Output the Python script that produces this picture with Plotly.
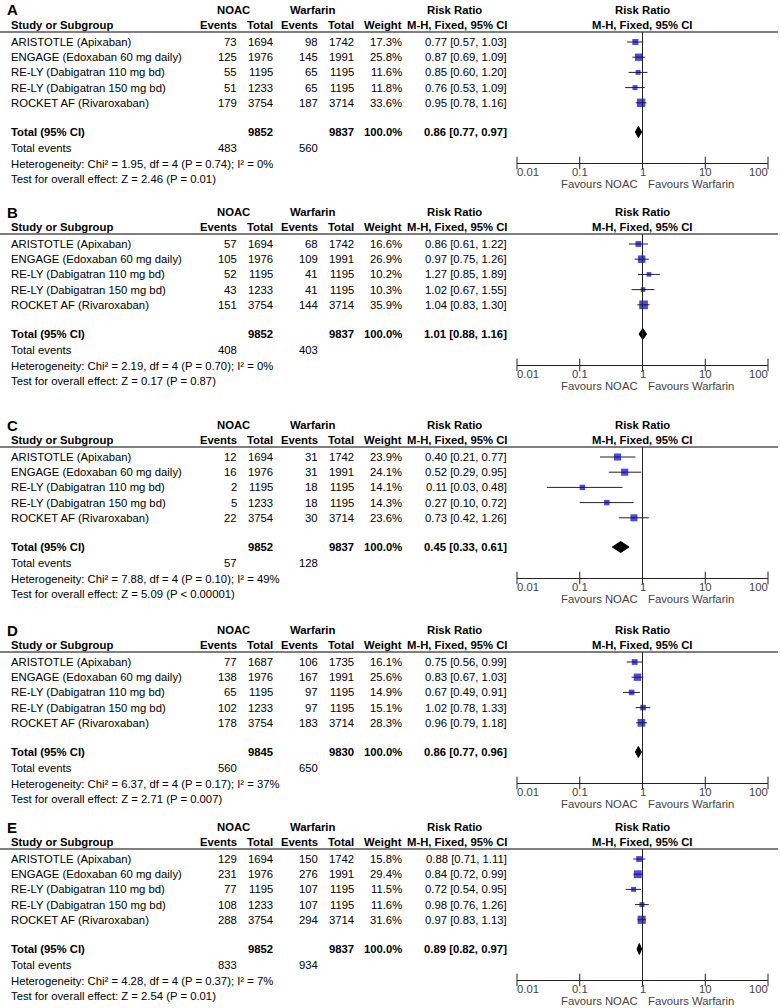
import math
import plotly.graph_objects as go

# ---------------- data ----------------
panels = ["A", "B", "C", "D", "E"]
studies = ["ARISTOTLE (Apixaban)", "ENGAGE (Edoxaban 60 mg daily)",
           "RE-LY (Dabigatran 110 mg bd)", "RE-LY (Dabigatran 150 mg bd)",
           "ROCKET AF (Rivaroxaban)"]
noac_events = [[73, 125, 55, 51, 179], [57, 105, 52, 43, 151], [12, 16, 2, 5, 22],
               [77, 138, 65, 102, 178], [129, 231, 77, 108, 288]]
noac_total = [[1694, 1976, 1195, 1233, 3754], [1694, 1976, 1195, 1233, 3754],
              [1694, 1976, 1195, 1233, 3754], [1687, 1976, 1195, 1233, 3754],
              [1694, 1976, 1195, 1233, 3754]]
warf_events = [[98, 145, 65, 65, 187], [68, 109, 41, 41, 144], [31, 31, 18, 18, 30],
               [106, 167, 97, 97, 183], [150, 276, 107, 107, 294]]
warf_total = [[1742, 1991, 1195, 1195, 3714], [1742, 1991, 1195, 1195, 3714],
              [1742, 1991, 1195, 1195, 3714], [1735, 1991, 1195, 1195, 3714],
              [1742, 1991, 1195, 1195, 3714]]
weights = [[17.3, 25.8, 11.6, 11.8, 33.6], [16.6, 26.9, 10.2, 10.3, 35.9],
           [23.9, 24.1, 14.1, 14.3, 23.6], [16.1, 25.6, 14.9, 15.1, 28.3],
           [15.8, 29.4, 11.5, 11.6, 31.6]]
rr = [[0.77, 0.87, 0.85, 0.76, 0.95], [0.86, 0.97, 1.27, 1.02, 1.04],
      [0.40, 0.52, 0.11, 0.27, 0.73], [0.75, 0.83, 0.67, 1.02, 0.96],
      [0.88, 0.84, 0.72, 0.98, 0.97]]
rr_lo = [[0.57, 0.69, 0.60, 0.53, 0.78], [0.61, 0.75, 0.85, 0.67, 0.83],
         [0.21, 0.29, 0.03, 0.10, 0.42], [0.56, 0.67, 0.49, 0.78, 0.79],
         [0.71, 0.72, 0.54, 0.76, 0.83]]
rr_hi = [[1.03, 1.09, 1.20, 1.09, 1.16], [1.22, 1.26, 1.89, 1.55, 1.30],
         [0.77, 0.95, 0.48, 0.72, 1.26], [0.99, 1.03, 0.91, 1.33, 1.18],
         [1.11, 0.99, 0.95, 1.26, 1.13]]
sum_noac_total = [9852, 9852, 9852, 9845, 9852]
sum_warf_total = [9837, 9837, 9837, 9830, 9837]
sum_weight = [100.0, 100.0, 100.0, 100.0, 100.0]
sum_rr = [0.86, 1.01, 0.45, 0.86, 0.89]
sum_lo = [0.77, 0.88, 0.33, 0.77, 0.82]
sum_hi = [0.97, 1.16, 0.61, 0.96, 0.97]
sum_noac_events = [483, 408, 57, 560, 833]
sum_warf_events = [560, 403, 128, 650, 934]
chi2 = [1.95, 2.19, 7.88, 6.37, 4.28]
df = [4, 4, 4, 4, 4]
het_p = ["0.74", "0.70", "0.10", "0.17", "0.37"]
i2 = [0, 0, 49, 37, 7]
z_val = [2.46, 0.17, 5.09, 2.71, 2.54]
z_p = ["P = 0.01", "P = 0.87", "P < 0.00001", "P = 0.007", "P = 0.01"]
tick_vals = [0.01, 0.1, 1, 10, 100]
tick_text = ["0.01", "0.1", "1", "10", "100"]

# ---------------- layout constants ----------------
W, H = 780, 1008
FONT = "Liberation Sans, Arial, sans-serif"
FS = 11.3
header_line_y = [32, 234, 447, 652, 849]
ROW0, ROWSTEP = 10, 15.2
TOTAL_OFF, EVT_OFF, HET_OFF, TEST_OFF = 100, 116, 132, 147
AXIS_OFF, TICKLBL_OFF, FAV_OFF = 131, 140, 152
AX_L, AX_R = 517, 768
C_EV1, C_N1, C_EV2, C_N2, C_W, C_CI = 237, 273, 318, 354, 402, 507
BLUE = "#0000CD"
GREY = "#444444"

annotations, shapes = [], []


def text(s, x, y, anchor="left", bold=False, size=FS, color="#000000"):
    if bold:
        s = "<b>" + s + "</b>"
    annotations.append(dict(text=s, x=x / W, y=1 - y / H, xref="paper", yref="paper",
                            xanchor=anchor, yanchor="middle", showarrow=False,
                            borderpad=0, borderwidth=0,
                            font=dict(family=FONT, size=size, color=color)))


def ci_text(m, lo, hi):
    return f"{m:.2f} [{lo:.2f}, {hi:.2f}]"


fig = go.Figure()
layout_axes = {}

for p in range(5):
    hl = header_line_y[p]
    # headers
    text(panels[p], 7, hl - 22, bold=True, size=15)
    text("NOAC", 233, hl - 22, "center", True)
    text("Warfarin", 313, hl - 22, "center", True)
    text("Risk Ratio", 454, hl - 22, "center", True)
    text("Risk Ratio", 642, hl - 22, "center", True)
    text("Study or Subgroup", 11, hl - 7, bold=True)
    text("Events", C_EV1, hl - 7, "right", True)
    text("Total", C_N1, hl - 7, "right", True)
    text("Events", C_EV2, hl - 7, "right", True)
    text("Total", C_N2, hl - 7, "right", True)
    text("Weight", C_W, hl - 7, "right", True)
    text("M-H, Fixed, 95% CI", C_CI, hl - 7, "right", True)
    text("M-H, Fixed, 95% CI", 642, hl - 7, "center", True)
    shapes.append(dict(type="line", xref="paper", yref="paper", x0=0, x1=778 / W,
                       y0=1 - hl / H, y1=1 - hl / H, line=dict(color="#555555", width=1.5)))
    # rows
    for k in range(5):
        y = hl + ROW0 + ROWSTEP * k
        text(studies[k], 11, y)
        text(str(noac_events[p][k]), C_EV1, y, "right")
        text(str(noac_total[p][k]), C_N1, y, "right")
        text(str(warf_events[p][k]), C_EV2, y, "right")
        text(str(warf_total[p][k]), C_N2, y, "right")
        text(f"{weights[p][k]:.1f}%", C_W, y, "right")
        text(ci_text(rr[p][k], rr_lo[p][k], rr_hi[p][k]), C_CI, y, "right")
    yt = hl + TOTAL_OFF
    text("Total (95% CI)", 11, yt, bold=True)
    text(str(sum_noac_total[p]), C_N1, yt, "right", True)
    text(str(sum_warf_total[p]), C_N2, yt, "right", True)
    text(f"{sum_weight[p]:.1f}%", C_W, yt, "right", True)
    text(ci_text(sum_rr[p], sum_lo[p], sum_hi[p]), C_CI, yt, "right", True)
    text("Total events", 11, hl + EVT_OFF)
    text(str(sum_noac_events[p]), C_EV1, hl + EVT_OFF, "right")
    text(str(sum_warf_events[p]), C_EV2, hl + EVT_OFF, "right")
    text(f"Heterogeneity: Chi² = {chi2[p]:.2f}, df = {df[p]} (P = {het_p[p]}); I² = {i2[p]}%",
         11, hl + HET_OFF)
    text(f"Test for overall effect: Z = {z_val[p]:.2f} ({z_p[p]})", 11, hl + TEST_OFF)

    # forest subplot
    xa = "x" if p == 0 else f"x{p + 1}"
    ya = "y" if p == 0 else f"y{p + 1}"
    y_top = (0 - ROW0) / ROWSTEP
    y_bot = (AXIS_OFF - ROW0) / ROWSTEP
    y_tot = (TOTAL_OFF - ROW0) / ROWSTEP
    rows = list(range(5))

    cx, cy = [], []
    for k in rows:
        cx += [rr_lo[p][k], rr_hi[p][k], None]
        cy += [k, k, None]
    fig.add_trace(go.Scatter(x=cx, y=cy, mode="lines", xaxis=xa, yaxis=ya,
                             line=dict(color="#222222", width=1), showlegend=False,
                             hoverinfo="skip", cliponaxis=False))
    fig.add_trace(go.Scatter(x=rr[p], y=rows, mode="markers", xaxis=xa, yaxis=ya,
                             marker=dict(symbol="square", color=BLUE,
                                         size=[1.45 * math.sqrt(w) for w in weights[p]],
                                         line=dict(width=0)),
                             showlegend=False, cliponaxis=False))
    h = 5.5 / ROWSTEP
    fig.add_trace(go.Scatter(x=[sum_lo[p], sum_rr[p], sum_hi[p], sum_rr[p], sum_lo[p]],
                             y=[y_tot, y_tot - h, y_tot, y_tot + h, y_tot],
                             mode="lines", fill="toself", fillcolor="#000000",
                             line=dict(color="#000000", width=1), xaxis=xa, yaxis=ya,
                             showlegend=False, hoverinfo="skip", cliponaxis=False))
    fig.add_trace(go.Scatter(x=tick_vals, y=[y_bot] * len(tick_vals), mode="markers",
                             xaxis=xa, yaxis=ya,
                             marker=dict(symbol="line-ns", size=9,
                                         line=dict(color="#222222", width=1)),
                             showlegend=False, hoverinfo="skip", cliponaxis=False))
    shapes.append(dict(type="line", xref=xa, yref=f"{ya} domain", x0=1, x1=1, y0=0, y1=1,
                       line=dict(color="#222222", width=1)))
    for j, (tv, tt) in enumerate(zip(tick_vals, tick_text)):
        anc = "left" if j == 0 else ("right" if j == len(tick_vals) - 1 else "center")
        annotations.append(dict(text=tt, x=math.log10(tv), xref=xa, y=1 - (hl + TICKLBL_OFF) / H,
                                yref="paper", xanchor=anc, yanchor="middle", showarrow=False,
                                borderpad=0, borderwidth=0,
                                font=dict(family=FONT, size=FS, color=GREY)))
    annotations.append(dict(text="Favours NOAC", x=0, xref=xa, y=1 - (hl + FAV_OFF) / H,
                            yref="paper", xanchor="right", yanchor="middle", xshift=-5,
                            showarrow=False, borderpad=0, borderwidth=0,
                            font=dict(family=FONT, size=FS, color=GREY)))
    annotations.append(dict(text="Favours Warfarin", x=0, xref=xa, y=1 - (hl + FAV_OFF) / H,
                            yref="paper", xanchor="left", yanchor="middle", xshift=5,
                            showarrow=False, borderpad=0, borderwidth=0,
                            font=dict(family=FONT, size=FS, color=GREY)))

    xkey = "xaxis" if p == 0 else f"xaxis{p + 1}"
    ykey = "yaxis" if p == 0 else f"yaxis{p + 1}"
    layout_axes[xkey] = dict(type="log", range=[-2, 2], domain=[AX_L / W, AX_R / W],
                             anchor=ya, showline=True, linecolor="#222222", linewidth=1,
                             ticks="", showticklabels=False, showgrid=False,
                             zeroline=False, fixedrange=True)
    layout_axes[ykey] = dict(range=[y_bot, y_top], anchor=xa,
                             domain=[1 - (hl + AXIS_OFF) / H, 1 - hl / H],
                             visible=False, fixedrange=True)

fig.update_layout(width=W, height=H, margin=dict(l=0, r=0, t=0, b=0),
                  paper_bgcolor="white", plot_bgcolor="white",
                  annotations=annotations, shapes=shapes, showlegend=False,
                  font=dict(family=FONT, size=FS, color="#000000"),
                  **layout_axes)
fig.write_html("out.html", config={"displayModeBar": False},
               post_script="document.body.style.margin='0';document.body.style.overflow='hidden';")
